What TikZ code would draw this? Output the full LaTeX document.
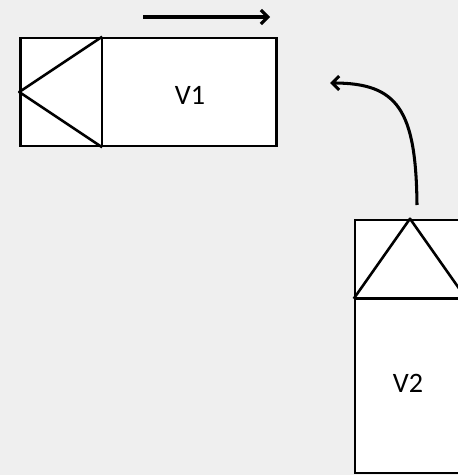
\documentclass[tikz,border=0pt]{standalone}
\usepackage{fontspec}
\setmainfont{Carlito}
\usetikzlibrary{arrows.meta, positioning, calc}
\definecolor{bggray}{RGB}{239,239,239}

\begin{document}
\begin{tikzpicture}[x=0.03cm, y=-0.03cm, line width=2.2pt,
  veh/.style={draw, fill=white, rectangle, inner sep=0pt},
  lbl/.style={font=\fontsize{24}{28}\selectfont},
  mv/.style={line width=2.6pt, -{Straight Barb[length=6pt,width=12pt,line width=2.6pt]}}]
  % Background
  \fill[bggray] (0,0) rectangle (458,475);
  \useasboundingbox (0,0) rectangle (458,475);
  \clip (0,0) rectangle (458,475);

  % Vehicles
  \node[veh, minimum width=7.68cm, minimum height=3.24cm] (v1) at (148.5,92) {};
  \node[veh, minimum width=3.3cm, minimum height=7.59cm] (v2) at (410,346.5) {};
  \coordinate (v1a) at ($(v1.north west)+(83,0)$);
  \coordinate (v1b) at ($(v1.south west)+(83,0)$);
  \coordinate (v2a) at ($(v2.north west)+(0,80)$);
  \coordinate (v2b) at ($(v2.north east)+(0,80)$);
  \draw (v1a) -- (v1b);
  \draw[line join=round] (v1a) -- (v1.west) -- (v1b);
  \draw (v2a) -- (v2b);
  \draw[line join=round] (v2a) -- (v2.north) -- (v2b);
  \node[lbl] (t1) at (190,95) {V1};
  \node[lbl] (t2) at (408,383) {V2};

  % Motion
  \coordinate (m1) at (143,17);
  \coordinate (m2) at (270,17);
  \draw[mv] (m1) -- (m2);
  \coordinate (c2) at (417,205);
  \coordinate (c1) at (330,83);
  \draw[mv] (c2) .. controls (416,110) and (398,83) .. (c1);
\end{tikzpicture}
\end{document}
